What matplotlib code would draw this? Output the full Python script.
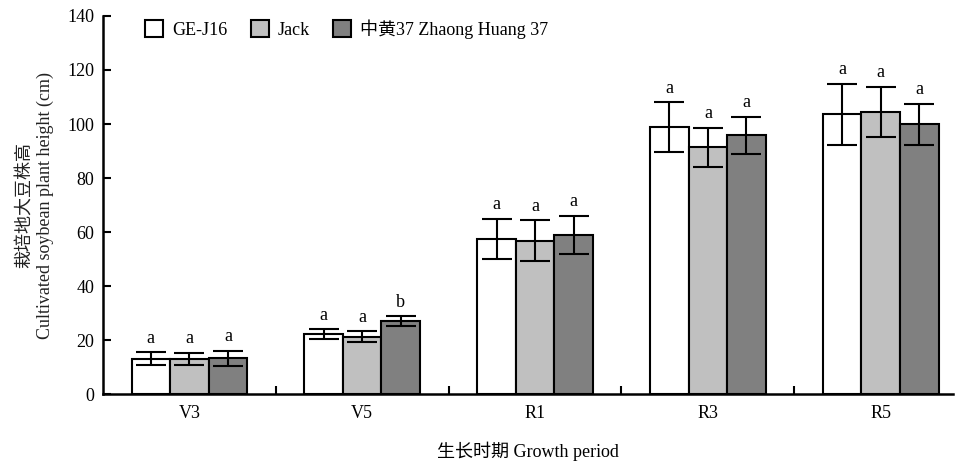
import numpy as np
import matplotlib
matplotlib.use("Agg")
import matplotlib.pyplot as plt

plt.rcParams['font.family'] = ['Liberation Serif', 'Noto Sans CJK SC']

stages = ["V3", "V5", "R1", "R3", "R5"]
varieties = ["GE-J16", "Jack", "中黄37 Zhaong Huang 37"]
colors = ["#ffffff", "#c0c0c0", "#808080"]

# plant height means and error (cm)
h_ge = [13.0, 22.2, 57.4, 98.9, 103.6]
h_jack = [13.0, 21.3, 56.8, 91.4, 104.5]
h_zh = [13.2, 27.0, 58.9, 95.8, 99.9]
e_ge = [2.4, 1.8, 7.5, 9.2, 11.3]
e_jack = [2.2, 2.0, 7.5, 7.2, 9.3]
e_zh = [2.8, 1.8, 7.2, 6.9, 7.6]

sig_ge = ["a", "a", "a", "a", "a"]
sig_jack = ["a", "a", "a", "a", "a"]
sig_zh = ["a", "b", "a", "a", "a"]

heights = [h_ge, h_jack, h_zh]
errors = [e_ge, e_jack, e_zh]
letters = [sig_ge, sig_jack, sig_zh]

fig = plt.figure(figsize=(9.62, 4.61), dpi=100)
ax = fig.add_axes([0.107, 0.1453, 0.884, 0.82])

x = np.arange(len(stages))
w = 0.223
for i in range(3):
    xs = x + (i - 1) * w
    ax.bar(xs, heights[i], width=w, color=colors[i], edgecolor="black",
           linewidth=1.5, label=varieties[i], zorder=2)
    ax.errorbar(xs, heights[i], yerr=errors[i], fmt="none", ecolor="black",
                elinewidth=1.5, capsize=11, capthick=1.5, zorder=3)
    for xi, hi, ei, s in zip(xs, heights[i], errors[i], letters[i]):
        ax.annotate(s, (xi, hi + ei), xytext=(0, 4), textcoords="offset points",
                    ha="center", va="bottom", fontsize=13)

ax.set_xlim(-0.5, 4.42)
ax.set_ylim(0, 140)
ax.set_yticks(range(0, 141, 20))
ax.set_xticks(x)
ax.set_xticklabels(stages)
ax.set_xticks(x[:-1] + 0.5, minor=True)
ax.tick_params(axis="x", which="major", length=0, pad=8, labelsize=13)
ax.tick_params(axis="x", which="minor", direction="in", length=6, width=1.5)
ax.tick_params(axis="y", direction="in", length=6, width=1.5, labelsize=13, pad=6)

for side in ["top", "right"]:
    ax.spines[side].set_visible(False)
for side in ["left", "bottom"]:
    ax.spines[side].set_linewidth(1.8)

ax.set_ylabel("栽培地大豆株高\nCultivated soybean plant height (cm)", fontsize=13,
              labelpad=10, linespacing=1.25, color="#222222")
ax.set_xlabel("生长时期 Growth period", fontsize=13, labelpad=14)

ax.legend(loc="upper left", bbox_to_anchor=(0.03, 1.035), ncol=3, frameon=False,
          fontsize=13, handlelength=1.0, handleheight=1.0, handletextpad=0.5,
          columnspacing=1.3)

fig.savefig("out.png", dpi=100)
